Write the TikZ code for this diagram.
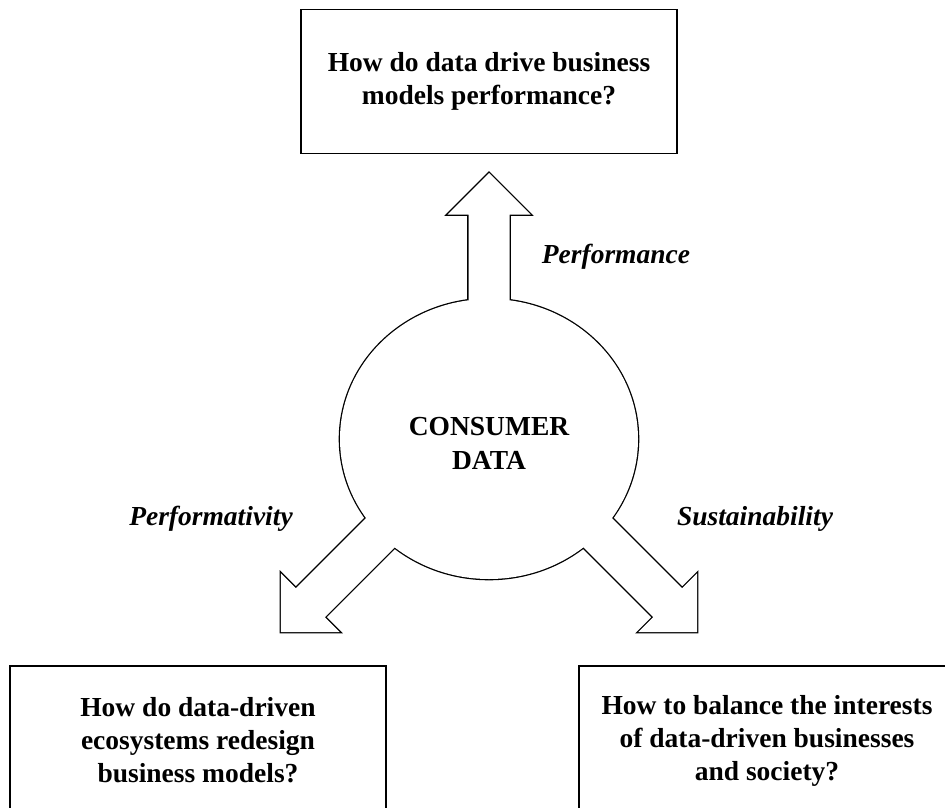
\documentclass[tikz,border=0pt]{standalone}
\usepackage{fontspec}
\setmainfont{Liberation Serif}
\usetikzlibrary{shapes.geometric}

\tikzset{
  qbox/.style={draw,line width=1.5pt,minimum width=376pt,align=center,
    font=\bfseries\fontsize{27.5pt}{33pt}\selectfont},
  lbl/.style={anchor=base,font=\bfseries\itshape\fontsize{27.5pt}{33pt}\selectfont},
  hub/.style={ellipse,inner sep=0pt,outer sep=0pt,
    minimum width=298pt,minimum height=280pt},
  outline/.style={line width=2.6pt,line join=miter}
}

\begin{document}
\begin{tikzpicture}[x=1pt,y=-1pt]
\useasboundingbox (0,0) rectangle (945,808);
\clip (0,0) rectangle (945,808);

% question boxes
\node[qbox,minimum height=144pt] (top) at (489,81.5) {How do data drive business\\models performance?};
\node[qbox,minimum height=149pt] (left) at (198,740.5) {How do data-driven\\ecosystems redesign\\business models?};
\node[qbox,minimum height=149pt] (right) at (767,740.5) {How to balance the interests\\of data-driven businesses\\and society?};

% hub with three fat arrows, outlines first then white fill
\node[hub,draw,outline] (hub) at (489,439) {};
\coordinate (footu) at (489,439);
\coordinate (footl) at (470,443);
\coordinate (footr) at (508,443);
\foreach \ft/\ang/\len in {footu/90/266,footl/225/267.3,footr/315/267.3}
  \draw[outline,shift={(\ft)},rotate=\ang]
    (0,-20.5) -- (\len-41.5,-20.5) -- (\len-41.5,-41.5) -- (\len,0)
    -- (\len-41.5,41.5) -- (\len-41.5,20.5) -- (0,20.5) -- cycle;
\fill[white] (hub.center) ellipse [x radius=149,y radius=140];
\foreach \ft/\ang/\len in {footu/90/266,footl/225/267.3,footr/315/267.3}
  \fill[white,shift={(\ft)},rotate=\ang]
    (0,-20.5) -- (\len-41.5,-20.5) -- (\len-41.5,-41.5) -- (\len,0)
    -- (\len-41.5,41.5) -- (\len-41.5,20.5) -- (0,20.5) -- cycle;
\node[align=center,font=\bfseries\fontsize{27.5pt}{34pt}\selectfont] (hubtext) at (489,443) {CONSUMER\\DATA};

% arrow labels
\node[lbl] (perfm) at (616,263) {Performance};
\node[lbl] (perfv) at (211,525) {Performativity};
\node[lbl] (sust) at (755,525) {Sustainability};
\end{tikzpicture}
\end{document}
